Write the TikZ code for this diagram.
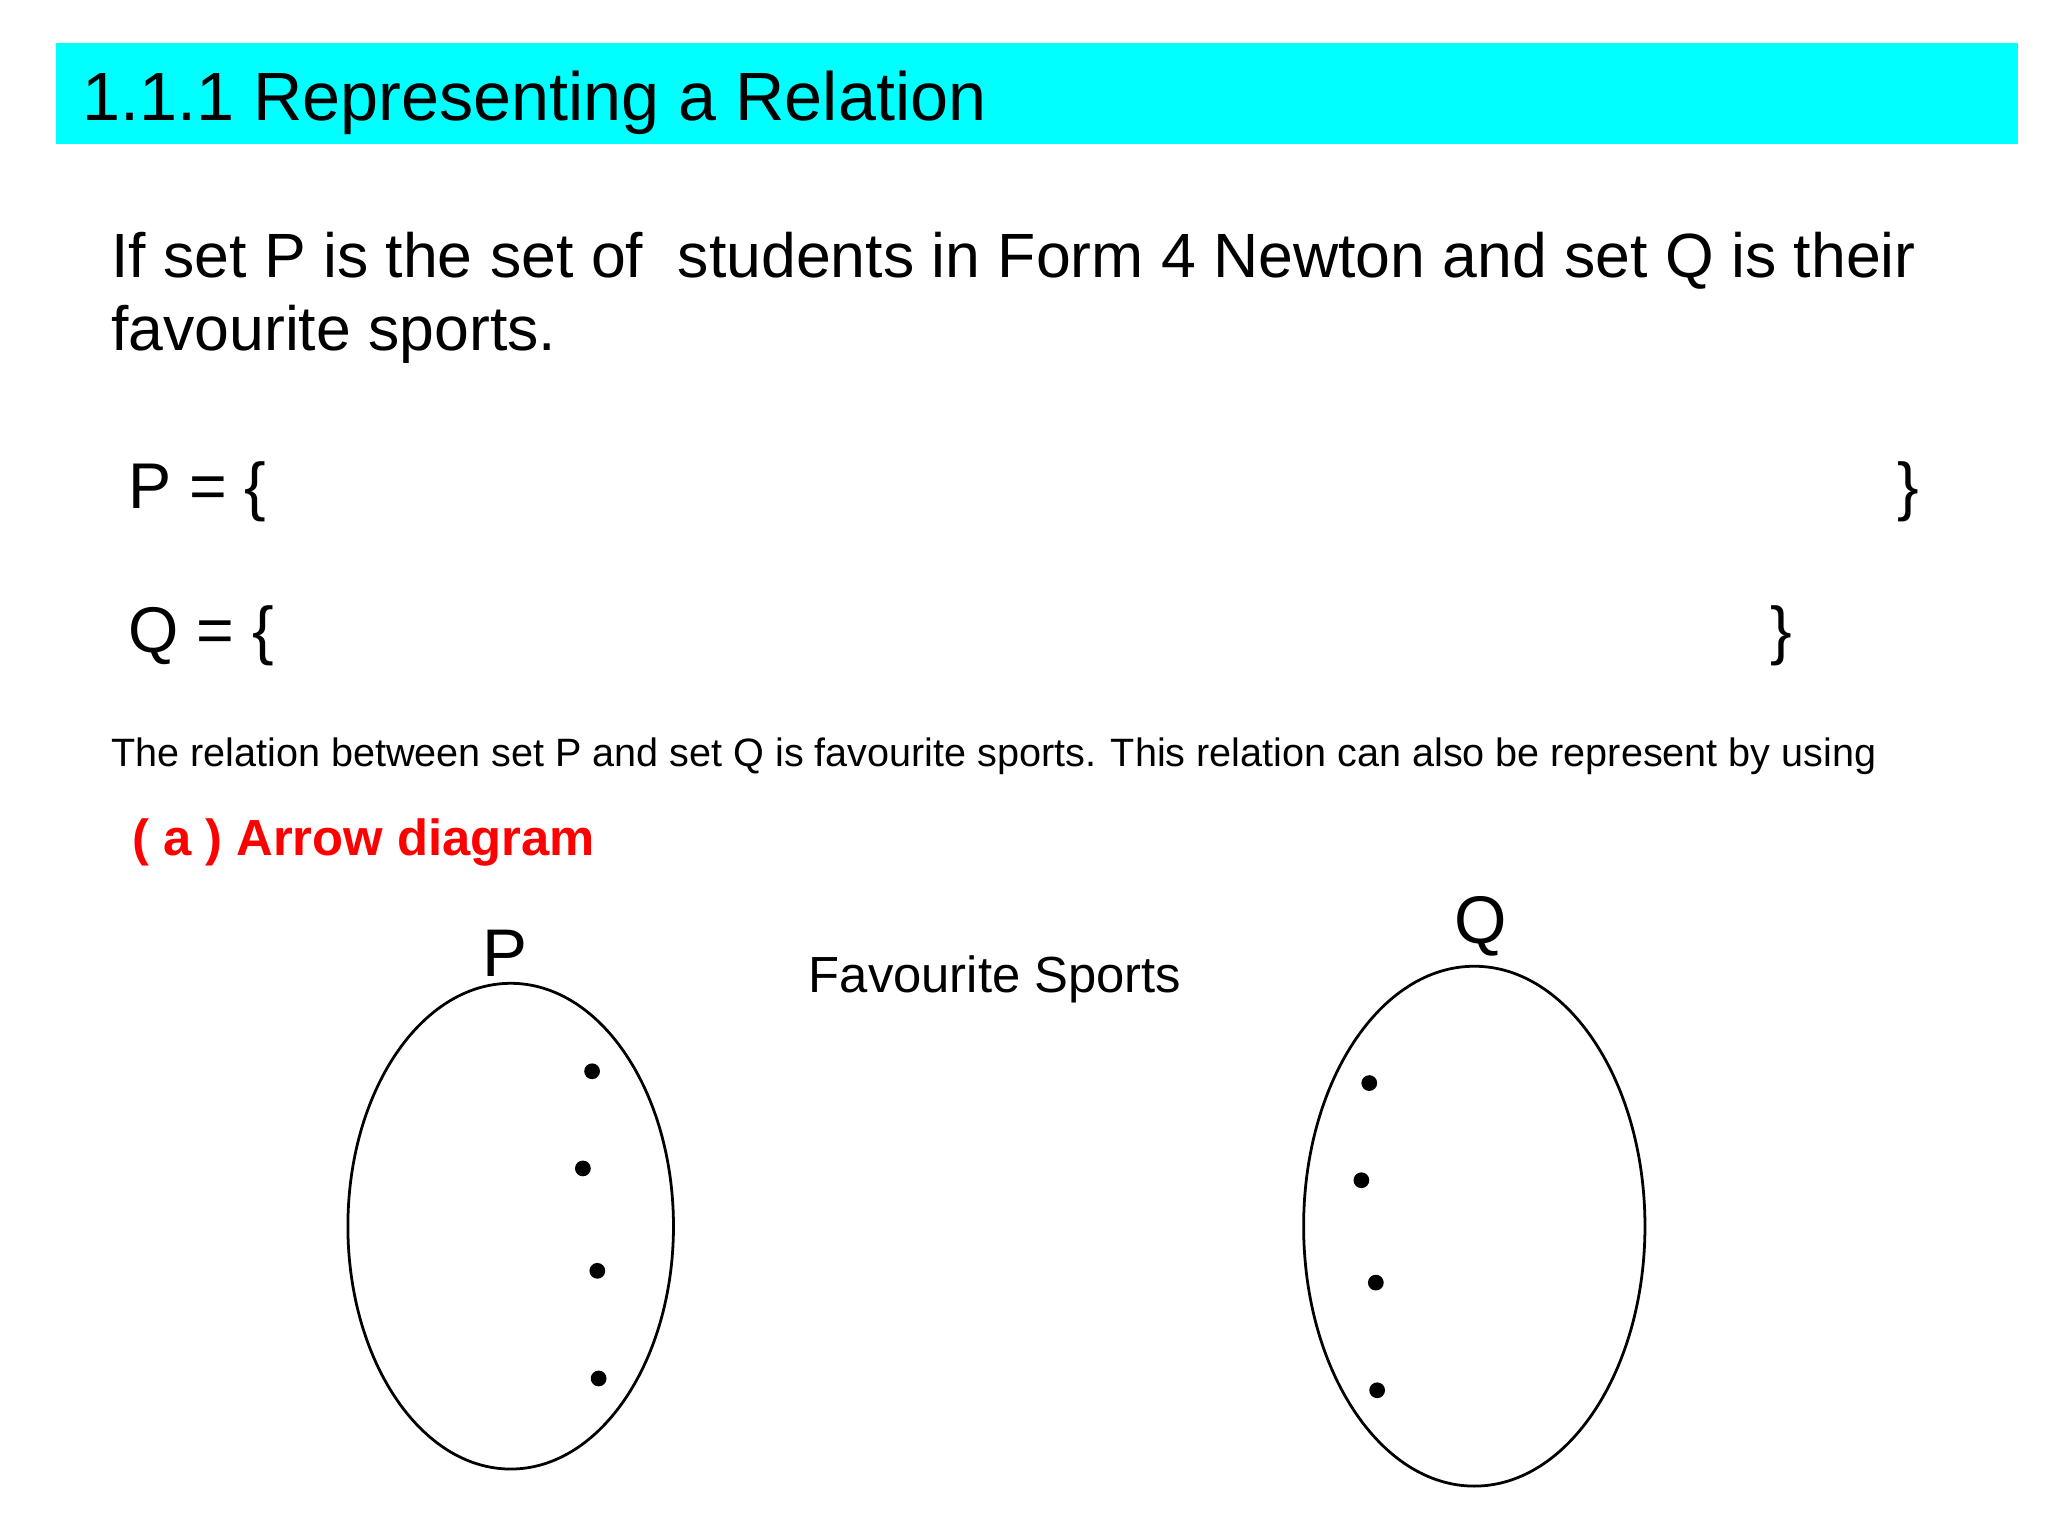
\documentclass[tikz,border=0pt]{standalone}
\usepackage{fontspec}
\setmainfont{Liberation Sans}
\definecolor{bannercyan}{RGB}{0,255,255}
\begin{document}
\begin{tikzpicture}[x=0.01cm,y=-0.01cm,
  txt/.style={inner sep=0pt,anchor=base west},
  dot/.style={circle,fill=black,inner sep=0pt,minimum size=0.12cm},
  setell/.style={draw,line width=0.6pt}]
\useasboundingbox (0,0) rectangle (1560,1170);
\fill[bannercyan] (43,33) rectangle (1537,110);
\node[txt] (title) at (62,92) {\fontsize{14.8}{18}\selectfont 1.1.1 Representing a Relation};
\node[txt] (l1) at (84,211) {\fontsize{13.55}{17}\selectfont If set P is the set of\ \ students in Form 4 Newton and set Q is their};
\node[txt] (l2) at (84,267) {\fontsize{13.55}{17}\selectfont favourite sports.};
\node[txt] (pset) at (97,387) {\fontsize{14}{17}\selectfont P = \{};
\node[txt] (pend) at (1445,387) {\fontsize{14}{17}\selectfont \}};
\node[txt] (qset) at (97,497) {\fontsize{14}{17}\selectfont Q = \{};
\node[txt] (qend) at (1348,497) {\fontsize{14}{17}\selectfont \}};
\node[txt] (rel) at (84,584) {\fontsize{8.57}{10}\selectfont The relation between set P and set Q is favourite sports. This relation can also be represent by using};
\node[txt,text=red] (a) at (100,652) {\fontsize{11}{12}\selectfont\bfseries ( a ) Arrow diagram};
\node[inner sep=0pt,anchor=base] (plab) at (385,744) {\fontsize{14.6}{17}\selectfont P};
\node[inner sep=0pt,anchor=base] (qlab) at (1128,719) {\fontsize{14.6}{17}\selectfont Q};
\node[inner sep=0pt,anchor=base] (fs) at (758,756) {\fontsize{11}{13}\selectfont Favourite Sports};
\draw[setell] (389,934) ellipse [x radius=124, y radius=185];
\draw[setell] (1123,934) ellipse [x radius=130, y radius=198];
\node[dot] (p1) at (451,816) {};
\node[dot] (p2) at (444,890) {};
\node[dot] (p3) at (455,968) {};
\node[dot] (p4) at (456,1050) {};
\node[dot] (q1) at (1043,825) {};
\node[dot] (q2) at (1037,899) {};
\node[dot] (q3) at (1048,977) {};
\node[dot] (q4) at (1049,1059) {};
\end{tikzpicture}
\end{document}
